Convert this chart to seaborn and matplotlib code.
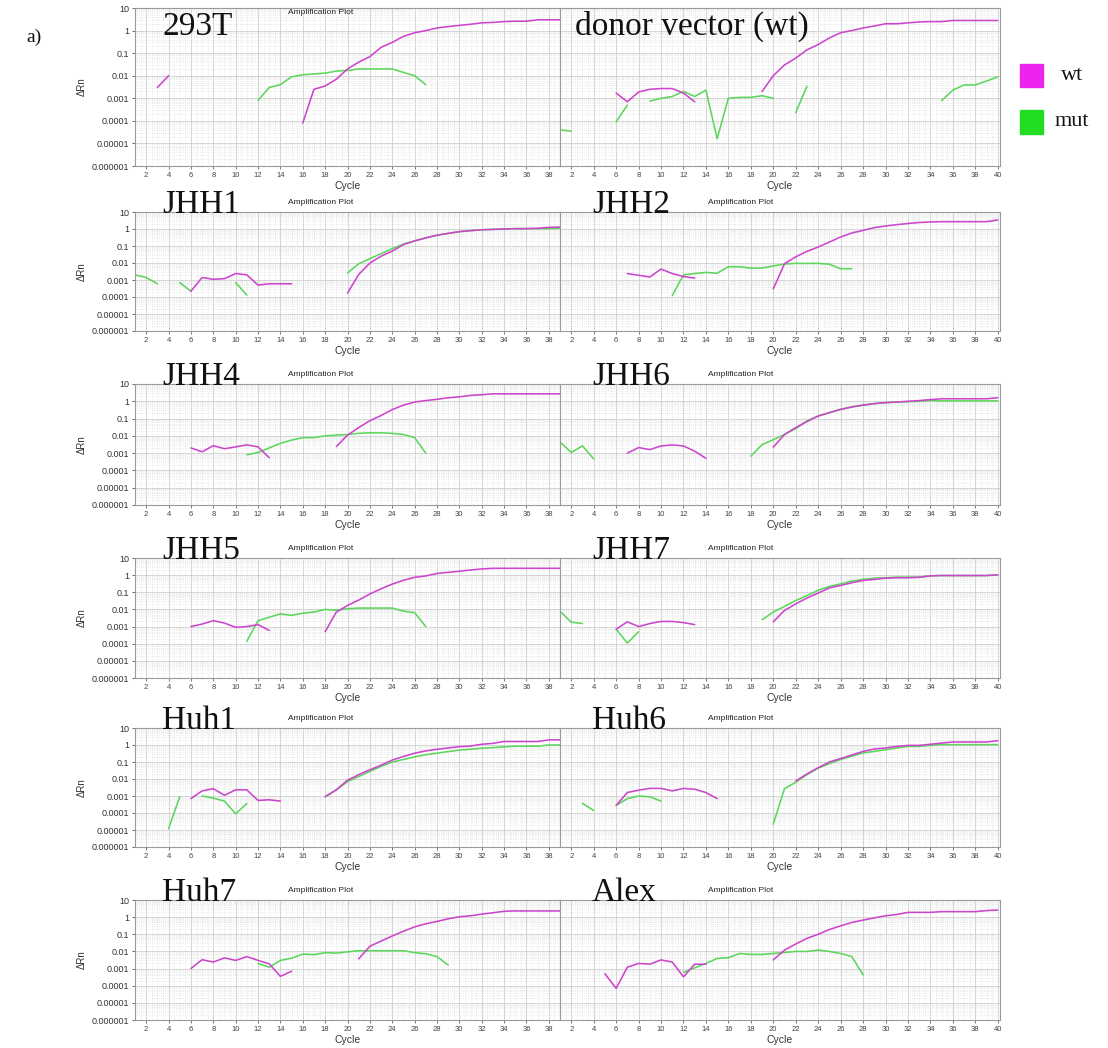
import numpy as np
import pandas as pd
import matplotlib
matplotlib.use("Agg")
import matplotlib.pyplot as plt
import seaborn as sns
from matplotlib.ticker import FixedLocator, FixedFormatter, MultipleLocator, LogLocator, NullFormatter
from matplotlib.patches import Rectangle

# ---------------- data (segments: (first cycle, consecutive dRn values)) ----------------
panel_names = ["293T", "donor vector (wt)", "JHH1", "JHH2", "JHH4", "JHH6",
               "JHH5", "JHH7", "Huh1", "Huh6", "Huh7", "Alex"]

wt_293T = [(3, [0.003, 0.01]),
           (16, [8e-5, 0.0025, 0.0035, 0.007, 0.02, 0.04, 0.07, 0.18, 0.3, 0.55, 0.8, 1.0,
                 1.3, 1.5, 1.7, 1.9, 2.2, 2.3, 2.5, 2.6, 2.6, 3.0, 3.0, 3.0])]
mut_293T = [(12, [0.0008, 0.003, 0.004, 0.009, 0.011, 0.012, 0.013, 0.016, 0.017, 0.02,
                  0.02, 0.02, 0.02, 0.014, 0.01, 0.004])]

wt_donor = [(6, [0.0017, 0.0007, 0.0019, 0.0025, 0.0027, 0.0027, 0.0017, 0.0007]),
            (19, [0.002, 0.01, 0.03, 0.06, 0.14, 0.24, 0.47, 0.8, 1.0, 1.3, 1.6, 2.0, 2.0,
                  2.2, 2.4, 2.5, 2.5, 2.8, 2.8, 2.8, 2.8, 2.8])]
mut_donor = [(1, [4e-5, 3.5e-5]), (6, [9e-5, 0.0005]),
             (9, [0.00075, 0.001, 0.0012, 0.002, 0.0012, 0.0023, 1.6e-5, 0.001, 0.0011,
                  0.0011, 0.0013, 0.001]),
             (22, [0.00023, 0.0034]),
             (35, [0.0008, 0.0023, 0.0039, 0.0039, 0.0058, 0.009])]

wt_JHH1 = [(6, [0.00022, 0.0014, 0.0011, 0.0012, 0.0024, 0.002, 0.0005, 0.0006, 0.0006, 0.0006]),
           (20, [0.00017, 0.0021, 0.01, 0.025, 0.05, 0.12, 0.2, 0.3, 0.43, 0.55, 0.7, 0.8, 0.9,
                 0.95, 1.0, 1.05, 1.05, 1.1, 1.25, 1.3])]
mut_JHH1 = [(1, [0.002, 0.0014, 0.0006]), (5, [0.0007, 0.00022]), (10, [0.0007, 0.00013]),
            (20, [0.0026, 0.009, 0.018, 0.035, 0.07, 0.13, 0.2, 0.3, 0.43, 0.55, 0.7, 0.8, 0.9,
                  0.95, 1.0, 1.05, 1.05, 1.05, 1.05, 1.1])]

wt_JHH2 = [(7, [0.0024, 0.0019, 0.0015, 0.0044, 0.0024, 0.0016, 0.0013]),
           (20, [0.0003, 0.009, 0.023, 0.048, 0.087, 0.17, 0.34, 0.58, 0.83, 1.2, 1.5, 1.8, 2.1,
                 2.4, 2.6, 2.7, 2.7, 2.7, 2.7, 2.7, 3.4])]
mut_JHH2 = [(11, [0.00012, 0.002, 0.0024, 0.0028, 0.0025, 0.006, 0.006, 0.005, 0.005, 0.0067,
                  0.0087, 0.0095, 0.0095, 0.0095, 0.0085, 0.0046, 0.0046])]

wt_JHH4 = [(6, [0.002, 0.0012, 0.0027, 0.0018, 0.0023, 0.003, 0.0023, 0.00055]),
           (19, [0.0024, 0.011, 0.03, 0.075, 0.15, 0.33, 0.6, 0.9, 1.1, 1.3, 1.6, 1.8, 2.2, 2.4,
                 2.7, 2.7, 2.7, 2.7, 2.7, 2.7, 2.7])]
mut_JHH4 = [(11, [0.0008, 0.0011, 0.002, 0.0037, 0.0057, 0.0078, 0.008, 0.01, 0.011, 0.012,
                  0.014, 0.015, 0.015, 0.014, 0.012, 0.008, 0.001])]

wt_JHH6 = [(7, [0.001, 0.0021, 0.0016, 0.0026, 0.003, 0.0026, 0.0013, 0.0005]),
           (20, [0.0022, 0.012, 0.03, 0.067, 0.14, 0.22, 0.34, 0.47, 0.6, 0.73, 0.84, 0.9, 1.0,
                 1.1, 1.25, 1.4, 1.4, 1.4, 1.4, 1.4, 1.6])]
mut_JHH6 = [(1, [0.0044, 0.0011, 0.0026, 0.00047]),
            (18, [0.00067, 0.0031, 0.006, 0.012, 0.026, 0.073, 0.14, 0.22, 0.34, 0.47, 0.6, 0.73,
                  0.84, 0.9, 0.95, 1.0, 1.1, 1.05, 1.05, 1.05, 1.05, 1.05, 1.05])]

wt_JHH5 = [(6, [0.001, 0.0014, 0.0022, 0.0016, 0.0009, 0.001, 0.0013, 0.0006]),
           (18, [0.0005, 0.007, 0.017, 0.035, 0.08, 0.16, 0.3, 0.5, 0.75, 0.9, 1.25, 1.45, 1.7,
                 2.0, 2.3, 2.5, 2.5, 2.5, 2.5, 2.5, 2.5, 2.5])]
mut_JHH5 = [(11, [0.00014, 0.0022, 0.0035, 0.0055, 0.0045, 0.006, 0.007, 0.01, 0.009, 0.011,
                  0.012, 0.012, 0.012, 0.012, 0.008, 0.0065, 0.001])]

wt_JHH7 = [(6, [0.0007, 0.0019, 0.001, 0.0015, 0.002, 0.002, 0.0017, 0.0013]),
           (20, [0.0019, 0.0087, 0.021, 0.046, 0.09, 0.18, 0.25, 0.36, 0.49, 0.56, 0.67, 0.7,
                 0.7, 0.75, 0.91, 0.95, 0.95, 0.95, 0.95, 0.95, 1.05])]
mut_JHH7 = [(1, [0.008, 0.0018, 0.0015]), (6, [0.0007, 0.00011, 0.0005]),
            (19, [0.0025, 0.007, 0.015, 0.033, 0.064, 0.13, 0.22, 0.31, 0.45, 0.56, 0.67, 0.7,
                  0.77, 0.77, 0.77, 0.91, 0.95, 0.95, 0.95, 0.95, 0.95, 1.05])]

wt_Huh1 = [(6, [0.0007, 0.002, 0.0027, 0.0011, 0.0023, 0.0023, 0.00055, 0.0006, 0.0005]),
           (18, [0.0009, 0.0023, 0.0085, 0.018, 0.035, 0.065, 0.13, 0.21, 0.33, 0.45, 0.56, 0.67,
                 0.8, 0.87, 1.1, 1.25, 1.6, 1.6, 1.6, 1.6, 2.0, 2.0])]
mut_Huh1 = [(4, [1.2e-5, 0.0009]), (7, [0.001, 0.00075, 0.0005, 9e-5, 0.00036]),
            (18, [0.0009, 0.0023, 0.007, 0.014, 0.028, 0.055, 0.1, 0.14, 0.2, 0.27, 0.33, 0.41,
                  0.5, 0.57, 0.64, 0.7, 0.78, 0.85, 0.85, 0.85, 1.0, 1.0])]

wt_Huh6 = [(6, [0.00028, 0.0016, 0.0022, 0.0028, 0.0028, 0.002, 0.0028, 0.0025, 0.0016, 0.0007]),
           (22, [0.0076, 0.02, 0.046, 0.1, 0.16, 0.26, 0.42, 0.58, 0.67, 0.83, 0.95, 0.95, 1.1,
                 1.3, 1.5, 1.5, 1.5, 1.5, 1.8])]
mut_Huh6 = [(3, [0.00037, 0.00014]), (6, [0.00028, 0.0007, 0.001, 0.0009, 0.0005]),
            (20, [2.2e-5, 0.0027, 0.0064, 0.018, 0.044, 0.08, 0.14, 0.22, 0.34, 0.42, 0.53, 0.67,
                  0.83, 0.83, 0.95, 1.05, 1.05, 1.05, 1.05, 1.05, 1.05])]

wt_Huh7 = [(6, [0.001, 0.0033, 0.0024, 0.0042, 0.003, 0.005, 0.003, 0.0019, 0.00035, 0.0007]),
           (21, [0.0037, 0.02, 0.04, 0.08, 0.15, 0.27, 0.41, 0.56, 0.8, 1.05, 1.2, 1.5, 1.8, 2.2,
                 2.3, 2.3, 2.3, 2.3, 2.3])]
mut_Huh7 = [(12, [0.002, 0.0012, 0.003, 0.004, 0.007, 0.0065, 0.0085, 0.008, 0.0095, 0.011,
                  0.011, 0.011, 0.011, 0.011, 0.0085, 0.0073, 0.005, 0.0016])]

wt_Alex = [(5, [0.0005, 7e-5, 0.0012, 0.002, 0.0018, 0.0032, 0.0024, 0.00033, 0.0018, 0.0018]),
           (20, [0.0032, 0.012, 0.027, 0.058, 0.1, 0.19, 0.31, 0.49, 0.67, 0.91, 1.2, 1.43, 1.9,
                 1.9, 1.9, 2.1, 2.1, 2.1, 2.1, 2.4, 2.6])]
mut_Alex = [(12, [0.0006, 0.0011, 0.002, 0.0039, 0.0043, 0.0076, 0.0067, 0.0067, 0.0076, 0.0087,
                  0.01, 0.01, 0.012, 0.01, 0.0076, 0.005, 0.00043])]

wt_series = [wt_293T, wt_donor, wt_JHH1, wt_JHH2, wt_JHH4, wt_JHH6,
             wt_JHH5, wt_JHH7, wt_Huh1, wt_Huh6, wt_Huh7, wt_Alex]
mut_series = [mut_293T, mut_donor, mut_JHH1, mut_JHH2, mut_JHH4, mut_JHH6,
              mut_JHH5, mut_JHH7, mut_Huh1, mut_Huh6, mut_Huh7, mut_Alex]

ytick_vals = [10, 1, 0.1, 0.01, 0.001, 0.0001, 0.00001, 0.000001]
ytick_labels = ["10", "1", "0.1", "0.01", "0.001", "0.0001", "0.00001", "0.000001"]
legend_labels = ["wt", "mut"]

# ---------------- styling ----------------
sns.set_theme(style="white")
plt.rcParams["font.family"] = ["Liberation Sans", "DejaVu Sans"]

WT_COLOR = "#cc45cc"
MUT_COLOR = "#5cd65c"

W, H = 1108, 1048
fig = plt.figure(figsize=(W / 100, H / 100), dpi=100)

rows_px = [(8, 166), (212, 331), (384, 505), (558, 678), (728, 847), (900, 1020)]
cols_px = [(135, 560), (560, 1000)]
title_x = [162, 592]


def to_frame(wt, mut):
    recs = []
    for name, segs in (("mut", mut), ("wt", wt)):
        for k, (start, vals) in enumerate(segs):
            for j, v in enumerate(vals):
                recs.append({"cycle": start + j, "dRn": v, "series": name, "seg": f"{name}{k}"})
    return pd.DataFrame(recs)


for i, name in enumerate(panel_names):
    r, c = divmod(i, 2)
    y0, y1 = rows_px[r]
    x0, x1 = cols_px[c]
    ax = fig.add_axes([x0 / W, 1 - y1 / H, (x1 - x0) / W, (y1 - y0) / H])
    df = to_frame(wt_series[i], mut_series[i])
    sns.lineplot(data=df, x="cycle", y="dRn", hue="series", hue_order=["mut", "wt"],
                 units="seg", estimator=None, palette={"wt": WT_COLOR, "mut": MUT_COLOR},
                 linewidth=1.15, legend=False, ax=ax, sort=False)
    ax.set_yscale("log")
    ax.set_ylim(1e-6, 10)
    if c == 0:
        ax.set_xlim(1, 39)
        xt = list(range(2, 39, 2))
    else:
        ax.set_xlim(1, 40.2)
        xt = list(range(2, 41, 2))
    ax.xaxis.set_major_locator(FixedLocator(xt))
    ax.xaxis.set_major_formatter(FixedFormatter([str(t) for t in xt]))
    ax.xaxis.set_minor_locator(MultipleLocator(0.5))
    ax.yaxis.set_major_locator(FixedLocator(ytick_vals))
    ax.yaxis.set_major_formatter(FixedFormatter(ytick_labels))
    ax.yaxis.set_minor_locator(LogLocator(base=10, subs=np.arange(2, 10), numticks=50))
    ax.yaxis.set_minor_formatter(NullFormatter())
    ax.grid(True, which="major", color="#cfcfcf", linewidth=0.6, linestyle="-")
    ax.grid(True, which="minor", color="#dcdcdc", linewidth=0.5, linestyle=":")
    ax.set_axisbelow(True)
    ax.tick_params(axis="x", which="major", labelsize=5.5, length=2, width=0.5,
                   colors="#444444", pad=2, bottom=True)
    ax.tick_params(axis="x", which="minor", length=0)
    ax.tick_params(axis="y", which="minor", length=0)
    if c == 0:
        ax.tick_params(axis="y", which="major", labelsize=6.5, length=2, width=0.5,
                       colors="#333333", pad=2, left=True)
        ax.set_ylabel("ΔRn", fontsize=7, labelpad=4, color="#333333")
    else:
        ax.tick_params(axis="y", which="major", labelleft=False, length=0)
        ax.set_ylabel("")
    ax.set_xlabel("Cycle", fontsize=7.5, labelpad=2, color="#333333")
    for sp in ax.spines.values():
        sp.set_color("#9a9a9a")
        sp.set_linewidth(0.8)

    # large serif panel title
    tx = 575 if i == 1 else title_x[c]
    base_y = 35 if r == 0 else y0 + 1
    amp_y = 13 if r == 0 else y0 - 10
    fig.text(tx / W, 1 - base_y / H, name, family="Liberation Serif", fontsize=24,
             color="#111111", ha="left", va="baseline", zorder=10)
    if i != 1:
        cx = 321 if c == 0 else 741
        fig.text(cx / W, 1 - amp_y / H, "Amplification Plot", fontsize=6,
                 color="#222222", ha="center", va="center", zorder=10)

# legend
for (ytop, ybot), col, lab, tx in [((64, 87), "#ee22ee", legend_labels[0], 1061),
                                   ((110, 134), "#22dd22", legend_labels[1], 1055)]:
    fig.patches.append(Rectangle((1020 / W, 1 - ybot / H), 23 / W, (ybot - ytop) / H,
                                 transform=fig.transFigure, color=col, zorder=5))
    fig.text(tx / W, 1 - ((ytop + ybot) / 2) / H, lab, family="Liberation Serif",
             fontsize=16, ha="left", va="center", color="#111111")

fig.text(26 / W, 1 - 37 / H, "a)", family="Liberation Serif", fontsize=14,
         ha="left", va="center", color="#111111")

fig.savefig("out.png", dpi=100, facecolor="white")
